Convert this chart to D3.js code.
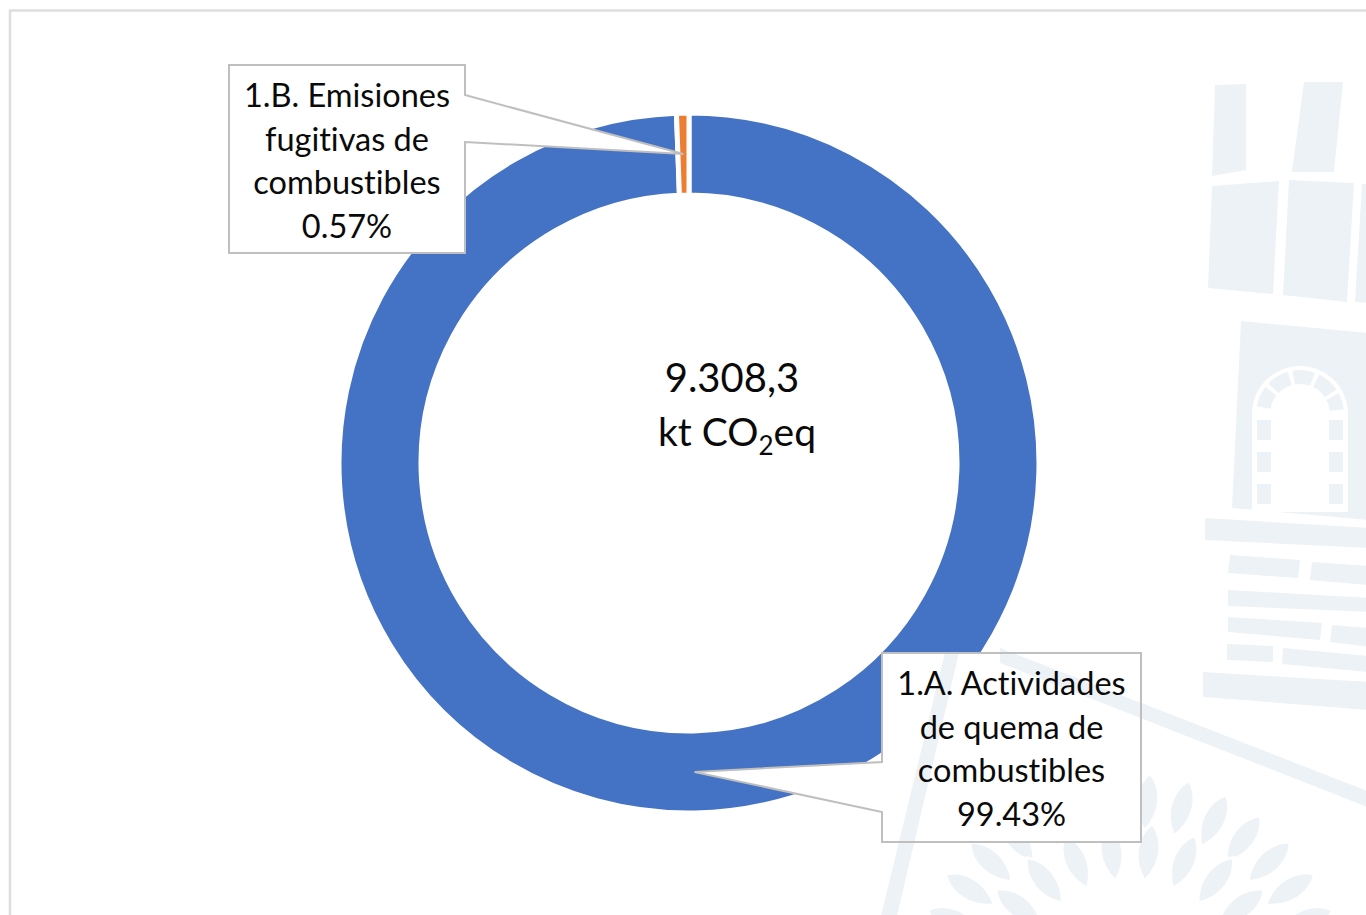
<!DOCTYPE html>
<html>
<head>
<meta charset="utf-8">
<script src="https://cdn.jsdelivr.net/npm/d3@7"></script>
<style>
  html, body { margin: 0; padding: 0; background: #ffffff; }
  svg { display: block; }
  text { font-family: Lato, "Open Sans", sans-serif; fill: #0a0a0a; font-variant-ligatures: none; font-feature-settings: "liga" 0; }
</style>
</head>
<body>
<svg id="chart" width="1366" height="915"></svg>
<script>
// Emission categories (sector 1, Energía) and their share of the total
const categories = [
  "1.A. Actividades de quema de combustibles",
  "1.B. Emisiones fugitivas de combustibles"
];
const labelLines = [
  ["1.A. Actividades", "de quema de", "combustibles"],
  ["1.B. Emisiones", "fugitivas de", "combustibles"]
];
const shares = [99.43, 0.57];
const totalKt = 9308.3;
const colors = ["#4472C4", "#ED7D31"];

const W = 1366, H = 915;
const cx = 689, cy = 463;
const outerR = 350, innerR = 268;
const wmColor = "#edf2f7";

const svg = d3.select("#chart");

// page frame
svg.append("path")
  .attr("d", `M10,${H + 5} V10.5 H${W + 5}`)
  .attr("fill", "none")
  .attr("stroke", "#dedede")
  .attr("stroke-width", 2.5);

// background emblem (light watermark)
const wmPolys = [
  [[1215,85],[1246,84],[1246,170],[1212,176]],
  [[1304,82],[1343,82],[1334,172],[1292,172]],
  [[1212,186],[1279,181],[1273,294],[1208,288]],
  [[1289,180],[1354,183],[1347,302],[1283,295]],
  [[1362,184],[1370,184],[1370,303],[1355,302]],
  [[1241,321],[1370,333],[1370,520],[1232,508]],
  [[1205,518],[1370,528],[1370,548],[1205,540]],
  [[1230,555],[1300,560],[1298,578],[1228,573]],
  [[1312,562],[1370,566],[1370,585],[1310,580]],
  [[1228,590],[1370,598],[1370,612],[1228,606]],
  [[1228,617],[1322,623],[1320,640],[1228,632]],
  [[1332,625],[1370,628],[1370,647],[1330,642]],
  [[1227,644],[1273,646],[1273,662],[1227,660]],
  [[1283,648],[1370,656],[1370,672],[1282,664]],
  [[1203,672],[1370,682],[1370,710],[1203,697]],
  // diagonal bars
  [[1000,648],[1370,792],[1370,808],[1000,663]],
  [[948,640],[962,640],[896,920],[880,920]]
];
const diagonalBars = wmPolys.slice(-2);

function drawEmblem(parent) {
  const wm = parent.append("g").attr("fill", wmColor);
  wmPolys.forEach(p => wm.append("path").attr("d", d3.line()(p) + "Z"));
  // arch window cut into the tower, with its voussoir blocks
  parent.append("path")
    .attr("d", "M1252,512 V414 A48,48 0 0 1 1348,414 V512 Z")
    .attr("fill", "#ffffff");
  const archG = parent.append("g").attr("fill", wmColor);
  const voussoir = d3.arc().innerRadius(30).outerRadius(44);
  [[-80, -52], [-46, -16], [-10, 20], [26, 56], [62, 84]].forEach(([a0, a1]) => {
    archG.append("path")
      .attr("d", voussoir({ startAngle: a0 * Math.PI / 180, endAngle: a1 * Math.PI / 180 }))
      .attr("transform", "translate(1300,414)");
  });
  [[420, 446], [452, 478], [484, 510]].forEach(([y0, y1]) => {
    archG.append("rect").attr("x", 1257).attr("y", y0).attr("width", 14).attr("height", y1 - y0 - 6);
    archG.append("rect").attr("x", 1329).attr("y", y0).attr("width", 14).attr("height", y1 - y0 - 6);
  });
  // leaf ring at the bottom
  const petal = "M0,0 C-16,-20 -14,-44 0,-58 C14,-44 16,-20 0,0 Z";
  const leafRings = [[1130, 990, 160, 14], [1130, 990, 110, 10]];
  leafRings.forEach(([lx, ly, r, n]) => {
    for (let i = 0; i < n; i++) {
      const a = -Math.PI * 0.88 + (i / (n - 1)) * Math.PI * 0.76;
      const ang = a * 180 / Math.PI + 90;
      wm.append("path")
        .attr("d", petal)
        .attr("transform", `translate(${lx + r * Math.cos(a)},${ly + r * Math.sin(a)}) rotate(${ang})`)
        .attr("stroke", "#ffffff")
        .attr("stroke-width", 3);
    }
  });
}
drawEmblem(svg);

// donut
const pie = d3.pie().sort(null).value(d => d).startAngle(0).endAngle(2 * Math.PI);
const arc = d3.arc().innerRadius(innerR).outerRadius(outerR);
const arcs = pie(shares);

const g = svg.append("g").attr("transform", `translate(${cx},${cy})`);
g.selectAll("path.slice")
  .data(arcs)
  .join("path")
  .attr("class", "slice")
  .attr("d", arc)
  .attr("fill", (d, i) => colors[i])
  .attr("stroke", "#ffffff")
  .attr("stroke-width", 5)
  .attr("stroke-linejoin", "miter");

// central total
const es = d3.formatLocale({ decimal: ",", thousands: ".", grouping: [3], currency: ["", "€"] });
const fmtTotal = es.format(",.1f");
const center = svg.append("g");
center.append("text")
  .attr("x", 732).attr("y", 392)
  .attr("text-anchor", "middle")
  .attr("font-size", 40)
  .text(fmtTotal(totalKt));
const unit = center.append("text")
  .attr("x", 737).attr("y", 446)
  .attr("text-anchor", "middle")
  .attr("font-size", 39);
unit.append("tspan").text("kt CO");
unit.append("tspan").attr("font-size", 26).attr("dy", 9).text("2");
unit.append("tspan").attr("dy", -9).text("eq");

// callout labels
const fmtPct = d3.format(".2f");
const boxes = [
  { x: 882, y: 653, w: 259, h: 189, side: "left", b0: 762, b1: 812 },
  { x: 229, y: 65, w: 236, h: 188, side: "right", b0: 95, b1: 142 }
];

arcs.forEach((d, i) => {
  const b = boxes[i];
  const c = arc.centroid(d);
  const tip = [cx + c[0], cy + c[1]];
  let pts;
  if (b.side === "right") {
    const rx = b.x + b.w;
    pts = [[b.x, b.y], [rx, b.y], [rx, b.b0], tip, [rx, b.b1], [rx, b.y + b.h], [b.x, b.y + b.h]];
  } else {
    pts = [[b.x, b.y], [b.x + b.w, b.y], [b.x + b.w, b.y + b.h], [b.x, b.y + b.h], [b.x, b.b1], tip, [b.x, b.b0]];
  }
  svg.append("path")
    .attr("d", d3.line()(pts) + "Z")
    .attr("fill", "#ffffff")
    .attr("stroke", "#bfbfbf")
    .attr("stroke-width", 2)
    .attr("stroke-linejoin", "miter");

  // emblem shows through the label box
  const clipId = "boxclip" + i;
  svg.append("clipPath").attr("id", clipId)
    .append("rect")
    .attr("x", b.x + 1).attr("y", b.y + 1)
    .attr("width", b.w - 2).attr("height", b.h - 2);
  const through = svg.append("g").attr("clip-path", `url(#${clipId})`).attr("fill", wmColor);
  diagonalBars.forEach(p => through.append("path").attr("d", d3.line()(p) + "Z"));

  const lines = labelLines[i].concat([fmtPct(shares[i]) + "%"]);
  const t = svg.append("text")
    .attr("text-anchor", "middle")
    .attr("font-size", 32.5);
  lines.forEach((ln, k) => {
    t.append("tspan")
      .attr("x", b.x + b.w / 2)
      .attr("y", b.y + 42 + k * 43.7)
      .text(ln);
  });
});
</script>
</body>
</html>
